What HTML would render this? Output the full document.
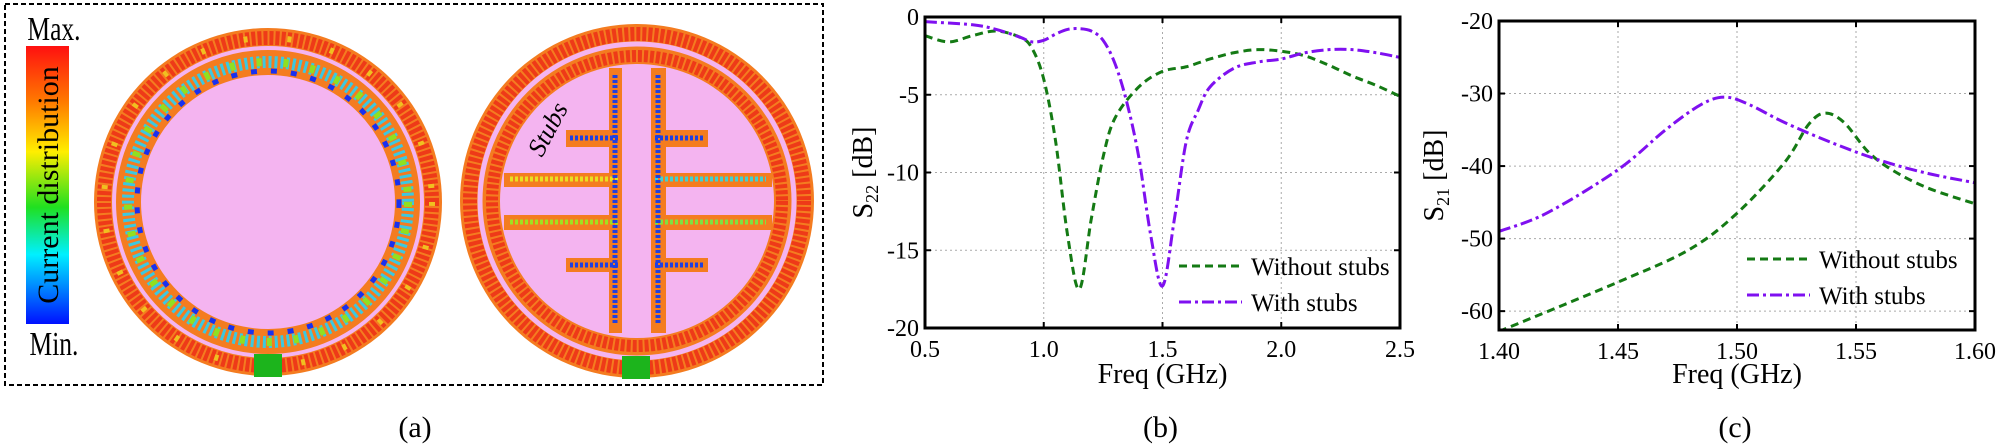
<!DOCTYPE html>
<html><head><meta charset="utf-8">
<style>
html,body{margin:0;padding:0;background:#fff;}
svg{display:block;font-family:"Liberation Serif",serif;}
</style></head>
<body>
<svg id="s" width="2010" height="447" viewBox="0 0 2010 447" xmlns="http://www.w3.org/2000/svg">
<defs>
<linearGradient id="cb" x1="0" y1="0" x2="0" y2="1">
<stop offset="0" stop-color="#ff1010"/><stop offset="0.2" stop-color="#ff7a00"/>
<stop offset="0.38" stop-color="#ffee00"/><stop offset="0.58" stop-color="#20e020"/>
<stop offset="0.75" stop-color="#00f0ff"/><stop offset="1" stop-color="#0010ff"/>
</linearGradient>
</defs>
<rect x="5" y="4" width="818" height="381" fill="none" stroke="#000" stroke-width="2" stroke-dasharray="5,3"/>
<rect x="26" y="46" width="43" height="278" fill="url(#cb)"/>
<text x="54" y="40" font-size="34" text-anchor="middle" transform="scale(0.75,1) translate(18,0)">Max.</text>
<text x="54" y="355" font-size="34" text-anchor="middle" transform="scale(0.75,1) translate(18,0)">Min.</text>
<text transform="translate(58,185) rotate(-90)" font-size="30" text-anchor="middle">Current distribution</text>

<circle cx="268" cy="202" r="174" fill="#f47c20"/>
<circle cx="268" cy="202" r="164" fill="none" stroke="#ee3a18" stroke-width="14" stroke-dasharray="4,2"/>
<circle cx="268" cy="202" r="164" fill="none" stroke="#f0c020" stroke-width="6" stroke-dasharray="4,40"/>
<circle cx="268" cy="202" r="154" fill="none" stroke="#f4b4f0" stroke-width="4"/>
<circle cx="268" cy="202" r="148" fill="#f47c20"/>
<circle cx="268" cy="202" r="140" fill="none" stroke="#3cc8e0" stroke-width="12" stroke-dasharray="3,3"/>
<circle cx="268" cy="202" r="140" fill="none" stroke="#90e020" stroke-width="8" stroke-dasharray="5,22"/>
<circle cx="268" cy="202" r="131" fill="none" stroke="#1830f0" stroke-width="5" stroke-dasharray="6,14"/>
<circle cx="268" cy="202" r="127" fill="#f4b4f0"/>
<rect x="254" y="354" width="28" height="23" fill="#1cb41c"/>

<circle cx="637" cy="201" r="177" fill="#f47c20"/>
<circle cx="637" cy="201" r="167" fill="none" stroke="#ee3a18" stroke-width="14" stroke-dasharray="4,2"/>
<circle cx="637" cy="201" r="157" fill="none" stroke="#f4b4f0" stroke-width="5"/>
<circle cx="637" cy="201" r="153" fill="#f47c20"/>
<circle cx="637" cy="201" r="145" fill="none" stroke="#ee3a18" stroke-width="12" stroke-dasharray="4,2"/>
<circle cx="637" cy="201" r="137" fill="#f4b4f0"/>
<g fill="#f47c20">
<rect x="609" y="68" width="13" height="265"/><rect x="651" y="68" width="15" height="265"/>
<rect x="504" y="173" width="118" height="14"/><rect x="651" y="173" width="121" height="14"/>
<rect x="504" y="215" width="118" height="15"/><rect x="651" y="215" width="121" height="15"/>
<rect x="566" y="130" width="56" height="17"/><rect x="651" y="130" width="57" height="17"/>
<rect x="566" y="258" width="56" height="14"/><rect x="651" y="258" width="57" height="14"/>
</g>
<g stroke-width="5" stroke-dasharray="3,2" fill="none">
<line x1="510" y1="179" x2="618" y2="179" stroke="#e8e020"/><line x1="655" y1="179" x2="766" y2="179" stroke="#40d0d0"/>
<line x1="510" y1="222" x2="618" y2="222" stroke="#a0e020"/><line x1="655" y1="222" x2="766" y2="222" stroke="#80e040"/>
<line x1="615" y1="75" x2="615" y2="325" stroke="#2040e0"/><line x1="658" y1="75" x2="658" y2="325" stroke="#2040e0"/>
<line x1="570" y1="138" x2="618" y2="138" stroke="#2040e0"/><line x1="655" y1="138" x2="704" y2="138" stroke="#2040e0"/>
<line x1="570" y1="265" x2="618" y2="265" stroke="#2040e0"/><line x1="655" y1="265" x2="704" y2="265" stroke="#2040e0"/>
</g>
<rect x="622" y="356" width="28" height="23" fill="#1cb41c"/>
<text transform="translate(542,158) rotate(-62)" font-size="26" font-style="italic">Stubs</text>
<text x="415" y="437" font-size="30" text-anchor="middle">(a)</text>

<g id="plots"></g>
</svg>
<script>
var NS="http://www.w3.org/2000/svg",G=document.getElementById("plots");
function el(t,a,txt){var e=document.createElementNS(NS,t);for(var k in a)e.setAttribute(k,a[k]);if(txt!=null)e.textContent=txt;G.appendChild(e);return e;}
function smooth(p){var d="M"+p[0][0]+","+p[0][1];for(var i=0;i<p.length-1;i++){var p0=p[i-1]||p[i],p1=p[i],p2=p[i+1],p3=p[i+2]||p2;
d+=" C"+(p1[0]+(p2[0]-p0[0])/6)+","+(p1[1]+(p2[1]-p0[1])/6)+" "+(p2[0]-(p3[0]-p1[0])/6)+","+(p2[1]-(p3[1]-p1[1])/6)+" "+p2[0]+","+p2[1];}return d;}
function plot(o){
 var X=function(v){return o.l+(v-o.x0)/(o.x1-o.x0)*(o.r-o.l)},Y=function(v){return o.t+(v-o.y0)/(o.y1-o.y0)*(o.b-o.t)};
 o.xt.forEach(function(v,i){var x=X(v);if(i>0&&i<o.xt.length-1)el("line",{x1:x,y1:o.t,x2:x,y2:o.b,stroke:"#aaa","stroke-width":1,"stroke-dasharray":"2,3"});
  el("text",{x:x,y:o.b+29,"font-size":24,"text-anchor":"middle"},o.xl[i]);});
 o.yt.forEach(function(v,i){var y=Y(v);if(y>o.t+2&&y<o.b-2)el("line",{x1:o.l,y1:y,x2:o.r,y2:y,stroke:"#aaa","stroke-width":1,"stroke-dasharray":"2,3"});
  el("text",{x:o.l-6,y:y+8,"font-size":24,"text-anchor":"end"},String(v));
  el("line",{x1:o.l,y1:y,x2:o.l+6,y2:y,stroke:"#000","stroke-width":2});el("line",{x1:o.r,y1:y,x2:o.r-6,y2:y,stroke:"#000","stroke-width":2});});
 o.xt.forEach(function(v){var x=X(v);el("line",{x1:x,y1:o.b,x2:x,y2:o.b-6,stroke:"#000","stroke-width":2});el("line",{x1:x,y1:o.t,x2:x,y2:o.t+6,stroke:"#000","stroke-width":2});});
 var cp=el("clipPath",{id:o.id});var rr=document.createElementNS(NS,"rect");rr.setAttribute("x",o.l);rr.setAttribute("y",o.t);rr.setAttribute("width",o.r-o.l);rr.setAttribute("height",o.b-o.t);cp.appendChild(rr);
 el("path",{d:smooth(o.g.map(function(p){return[X(p[0]),Y(p[1])]})),fill:"none",stroke:"#147a14","stroke-width":3,"stroke-dasharray":"8,5","clip-path":"url(#"+o.id+")"});
 el("path",{d:smooth(o.p.map(function(p){return[X(p[0]),Y(p[1])]})),fill:"none",stroke:"#7f10f0","stroke-width":3,"stroke-dasharray":"12,4,3,4","clip-path":"url(#"+o.id+")"});
 el("rect",{x:o.l,y:o.t,width:o.r-o.l,height:o.b-o.t,fill:"none",stroke:"#000","stroke-width":3});
 el("line",{x1:o.lg[0],y1:o.lg[1],x2:o.lg[0]+63,y2:o.lg[1],stroke:"#147a14","stroke-width":3,"stroke-dasharray":"8,5"});
 el("text",{x:o.lg[0]+72,y:o.lg[1]+9,"font-size":25},"Without stubs");
 el("line",{x1:o.lg[0],y1:o.lg[1]+36,x2:o.lg[0]+63,y2:o.lg[1]+36,stroke:"#7f10f0","stroke-width":3,"stroke-dasharray":"12,4,3,4"});
 el("text",{x:o.lg[0]+72,y:o.lg[1]+45,"font-size":25},"With stubs");
 el("text",{x:(o.l+o.r)/2,y:383,"font-size":28,"text-anchor":"middle"},"Freq (GHz)");
 el("text",{x:(o.l+o.r)/2-2,y:437,"font-size":30,"text-anchor":"middle"},o.cap);
 var yl=el("text",{transform:"translate("+o.yx+","+((o.t+o.b)/2)+") rotate(-90)","font-size":28,"text-anchor":"middle"});
 yl.innerHTML='S<tspan font-size="18" dy="6">'+o.sub+'</tspan><tspan dy="-6"> [dB]</tspan>';
}
plot({id:"cb1",l:925,r:1400,t:17,b:328,x0:0.5,x1:2.5,y0:0,y1:-20,xt:[0.5,1,1.5,2,2.5],xl:["0.5","1.0","1.5","2.0","2.5"],yt:[0,-5,-10,-15,-20],
 g:[[0.5,-1.2],[0.6,-1.6],[0.7,-1.2],[0.8,-0.9],[0.9,-1.3],[0.95,-2],[1.0,-4],[1.05,-8],[1.1,-14],[1.15,-17.5],[1.2,-13],[1.25,-9],[1.3,-6.5],[1.4,-4.5],[1.5,-3.5],[1.6,-3.2],[1.7,-2.7],[1.8,-2.3],[1.9,-2.1],[2.0,-2.2],[2.1,-2.5],[2.2,-3.1],[2.3,-3.8],[2.4,-4.4],[2.5,-5.1]],
 p:[[0.5,-0.3],[0.7,-0.5],[0.8,-0.8],[0.9,-1.3],[0.95,-1.6],[1.0,-1.5],[1.05,-1.1],[1.1,-0.8],[1.15,-0.75],[1.2,-0.9],[1.25,-1.5],[1.3,-3],[1.35,-5.5],[1.4,-9],[1.45,-14],[1.5,-17.3],[1.55,-13],[1.6,-8],[1.65,-6],[1.7,-4.5],[1.8,-3.3],[1.9,-2.9],[2.0,-2.7],[2.1,-2.3],[2.2,-2.1],[2.3,-2.1],[2.4,-2.3],[2.5,-2.6]],
 lg:[1179,266],cap:"(b)",yx:872,sub:"22"});
plot({id:"cb2",l:1499,r:1975,t:21,b:330,x0:1.4,x1:1.6,y0:-20,y1:-62.6,xt:[1.4,1.45,1.5,1.55,1.6],xl:["1.40","1.45","1.50","1.55","1.60"],yt:[-20,-30,-40,-50,-60],
 g:[[1.4,-62.8],[1.45,-56],[1.48,-51.5],[1.5,-46.5],[1.52,-39.5],[1.53,-34.3],[1.537,-32.7],[1.545,-34],[1.555,-38],[1.565,-40.5],[1.58,-43],[1.6,-45.2]],
 p:[[1.4,-49],[1.42,-46.5],[1.45,-40.5],[1.47,-35],[1.485,-31.5],[1.495,-30.5],[1.505,-31.5],[1.52,-34],[1.54,-36.8],[1.56,-39.2],[1.58,-41],[1.6,-42.3]],
 lg:[1747,259],cap:"(c)",yx:1443,sub:"21"});
</script>
</body></html>
